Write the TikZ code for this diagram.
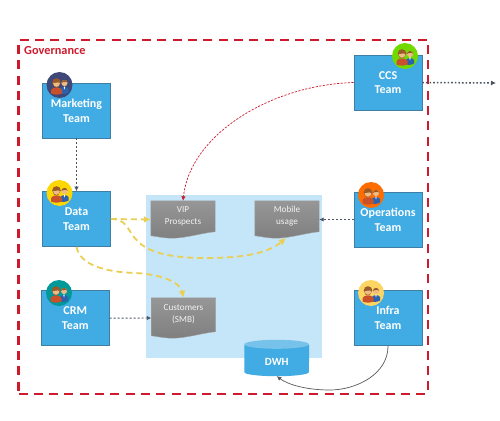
\documentclass[tikz,border=0pt]{standalone}
\usepackage{fontspec}
\setmainfont{Carlito}
\usetikzlibrary{arrows.meta,calc}
\definecolor{govred}{HTML}{CF1A2E}
\definecolor{teamblue}{HTML}{41ABE3}
\definecolor{teamedge}{HTML}{3F7FA3}
\definecolor{pale}{HTML}{C5E5F8}
\definecolor{goldline}{HTML}{EBCF55}
\definecolor{slateline}{HTML}{4A5560}
\definecolor{docgray}{HTML}{919191}
\definecolor{personred}{HTML}{C8502A}
\definecolor{personblue}{HTML}{2A62B0}
\definecolor{skin}{HTML}{EDBB85}
\definecolor{hair}{HTML}{9A5A28}
\tikzset{
  team/.style={draw=teamedge,line width=0.7pt,fill=teamblue,minimum width=68pt,minimum height=55pt,inner sep=0pt,
    text=white,font=\bfseries\fontsize{12}{14.7}\selectfont,align=center},
  docbox/.style={minimum width=64pt,inner sep=0pt,text=white!90!gray,
    font=\fontsize{9.2}{11.6}\selectfont,align=center},
  goldflow/.style={draw=goldline,line width=1.8pt,dash pattern=on 6pt off 4pt,-{Latex[length=7pt,width=7pt]}},
  slateflow/.style={draw=slateline,line width=0.9pt,dash pattern=on 2pt off 2pt,-{Latex[length=4.5pt,width=4.5pt]}},
  badge/.style={circle,minimum size=26pt,inner sep=0pt},
}
% wavy document shape round a named box node
\newcommand{\docshape}[1]{%
  \path[top color=docgray!95!white,bottom color=docgray!88!black,draw=gray!75,line width=0.4pt]
    (#1.north west) -- (#1.north east) -- ($(#1.south east)+(0,-6.5)$)
    .. controls +(-12,1) and +(14,0) .. ($(#1.south west)+(21,0)$)
    .. controls +(-7,0) and +(7,1) .. ($(#1.south west)+(0,-2.5)$) -- cycle;}
% two small persons inside a named badge
\newcommand{\persons}[1]{%
  \begin{scope}[shift={(#1)}]
    \fill[personblue] (1,8.5) -- (1,4) .. controls (2,1.5) and (8,1.5) .. (9,4) -- (9,7.5) .. controls (7,9) and (3,9) .. (1,8.5) -- cycle;
    \fill[skin] (5,-2) circle[radius=3.1];
    \fill[hair] (1.9,-2) arc[start angle=180,end angle=360,radius=3.1] -- (7,-3.2) -- (3.4,-2.8) -- cycle;
    \fill[white] (4.2,1.5) -- (5.8,1.5) -- (5,4.5) -- cycle;
    \fill[personred] (-8.5,8.5) -- (-8.5,5) .. controls (-7,1.5) and (1,1.5) .. (2.5,5) -- (2.5,8.5) .. controls (-1,10) and (-5,10) .. (-8.5,8.5) -- cycle;
    \fill[hair] (-7.3,-2.5) arc[start angle=180,end angle=360,radius=4.3] -- (-1.2,2) -- (-5.2,2) -- cycle;
    \fill[skin] (-3,-1.5) circle[radius=3.3];
    \fill[hair] (-6.3,-2) arc[start angle=180,end angle=360,radius=3.3] -- (-1.5,-2.6) -- (-4.5,-2.2) -- cycle;
  \end{scope}}
\begin{document}
\begin{tikzpicture}[x=1pt,y=-1pt]
\useasboundingbox (0,0) rectangle (500,420);
\fill[white] (0,0) rectangle (500,420);
% governance frame
\node[draw=govred,line width=2.2pt,dash pattern=on 9pt off 6.3pt,minimum width=409.5pt,minimum height=354pt,inner sep=0pt] (gov) at (223.3,217) {};
\node[text=govred,font=\bfseries\fontsize{12.3}{14}\selectfont,anchor=west,inner sep=0pt] (govlabel) at (24,50.5) {Governance};
% data area
\node[fill=pale,minimum width=176pt,minimum height=163pt,inner sep=0pt] (area) at (234,276.5) {};
% teams
\node[team] (marketing) at (76.5,110.5) {Marketing\\Team};
\node[team] (data) at (76.5,219) {Data\\Team};
\node[team] (crm) at (75.2,318.2) {CRM\\Team};
\node[team] (ccs) at (388,82.5) {CCS\\Team};
\node[team] (ops) at (388,219.5) {Operations\\Team};
\node[team] (infra) at (388,318.2) {Infra\\Team};
% documents
\node[docbox,minimum height=37pt] (vip) at (183,219.5) {};
\node[docbox,minimum height=37pt] (mobile) at (287,219.5) {};
\node[docbox,minimum height=40pt] (smb) at (183.5,318) {};
\docshape{vip}
\docshape{mobile}
\docshape{smb}
\node[docbox] (viptext) at (183,216) {VIP\\Prospects};
\node[docbox] (mobiletext) at (287,216) {Mobile\\usage};
\node[docbox] (smbtext) at (183.5,314) {Customers\\(SMB)};
% DWH
\node[minimum width=64.5pt,minimum height=36pt,inner sep=0pt] (dwh) at (276.8,358) {};
\fill[teamblue] ($(dwh.north west)+(0,5)$) -- ($(dwh.south west)+(0,-4)$) arc[start angle=180,end angle=360,x radius=32.25,y radius=-4] -- ($(dwh.north east)+(0,5)$) -- cycle;
\fill[teamblue!60!pale] ($(dwh.north west)+(0,4.5)$) arc[start angle=180,end angle=-180,x radius=32.25,y radius=4.5];
\node[text=white,font=\bfseries\fontsize{11}{13}\selectfont,inner sep=0pt] (dwhtext) at (276.8,362) {DWH};
% connectors
\draw[slateflow] (marketing.south) -- (data.north);
\draw[slateflow] (crm.east) -- (smb.west);
\draw[slateflow] (ops.west) -- (mobile.east);
\draw[slateline,line width=1.5pt,dash pattern=on 1.6pt off 2pt,-{Latex[length=5pt,width=5pt]}] (ccs.east) -- (496,83);
\draw[govred,line width=0.7pt,dash pattern=on 2.2pt off 1.4pt,-{Latex[length=4.5pt,width=4.5pt]}] (ccs.west) .. controls (270,85) and (190,135) .. (vip.north);
\draw[goldflow] (data.east) -- (vip.west);
\draw[goldflow] (data.east) .. controls (142,219) and (113,258) .. (205,258) .. controls (245,258) and (268,253) .. (286,238);
\draw[goldflow] (data.south) .. controls (80,265) and (105,272) .. (135,273) .. controls (160,274) and (180,282) .. (smb.north);
\draw[gray!70!black,line width=0.7pt,-{Latex[length=4.5pt,width=4.5pt]}] (infra.south) .. controls (388,375) and (355,390) .. (330,390) .. controls (305,390) and (287,384) .. (dwh.south);
% badges
\node[badge,fill=slateline!85!blue] (b1) at (59.5,85) {};
\node[badge,fill=yellow!75!orange] (b2) at (59.5,193) {};
\node[badge,fill=teal!80!cyan] (b3) at (59,293) {};
\node[badge,fill=orange!85!red] (b4) at (371,195) {};
\node[badge,fill=lime!70!green!85!black] (b5) at (405,56) {};
\node[badge,fill=yellow!50!orange!60!white] (b6) at (371,293) {};
\persons{b1}\persons{b2}\persons{b3}\persons{b4}\persons{b5}\persons{b6}
\end{tikzpicture}
\end{document}
